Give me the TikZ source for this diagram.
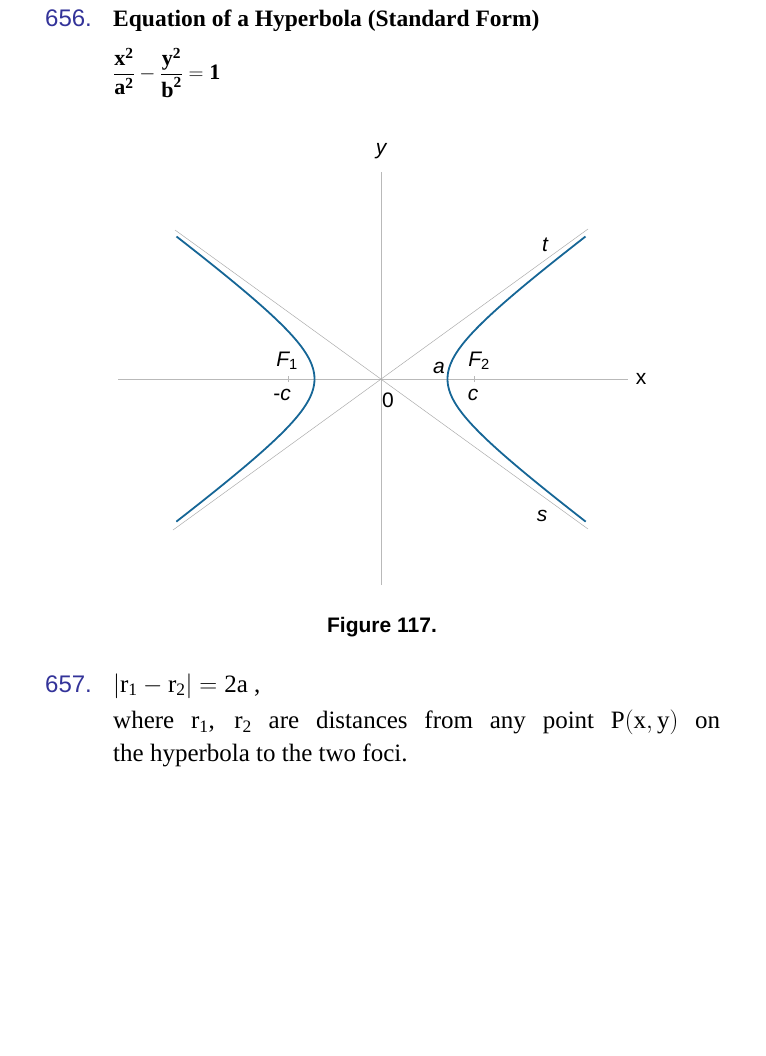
\documentclass[tikz,border=0pt]{standalone}
\usepackage{amsmath}
\usepackage{fontspec}
\setmainfont{Liberation Serif}
\setsansfont{Liberation Sans}
\usetikzlibrary{positioning}
\definecolor{numblue}{RGB}{51,51,153}
\definecolor{curveblue}{RGB}{22,102,150}
\definecolor{axisgray}{RGB}{185,185,185}
\begin{document}
\begin{tikzpicture}[
		x = 1pt, y = -1pt,
		every node/.style = {inner sep = 0pt},
		itemnum/.style = {font = \sffamily\fontsize{24}{28}\selectfont, text = numblue, anchor = base west},
		lab/.style = {font = \sffamily\fontsize{21}{24}\selectfont},
		axisline/.style = {axisgray, line width = 0.7pt},
		asym/.style = {gray!65, line width = 0.5pt},
		branch/.style = {curveblue, line width = 1.8pt},
		declare function = {
			hx(\t) = 66.5*cosh(\t);
			hy(\t) = 49*sinh(\t);
		}]
	\useasboundingbox (0,0) rectangle (765,1056);

	% header
	\node[itemnum] (num656) at (45,27) {656.};
	\node[anchor = base west, font = \bfseries\fontsize{23.5}{28}\selectfont] (title) at (113,27)
		{Equation of a Hyperbola (Standard Form)};
	\node[anchor = west, font = \bfseries\fontsize{22}{26}\selectfont] (eqn) at (113,73)
		{$\dfrac{\text{x}^{\text{2}}}{\text{a}^{\text{2}}}-\dfrac{\text{y}^{\text{2}}}{\text{b}^{\text{2}}}=\text{1}$};

	% graph
	\begin{scope}[shift = {(381,379)}, yscale = -1]
		\coordinate (O) at (0,0);
		\coordinate (xl) at (-263,0);
		\coordinate (xr) at (247,0);
		\coordinate (yb) at (0,-206);
		\coordinate (yt) at (0,207);

		\draw[axisline] (xl) -- (xr);
		\draw[axisline] (yb) -- (yt);

		\draw[asym] (-208,-151) -- (207,150);
		\draw[asym] (-206,149) -- (207,-150);

		\draw[branch,domain=-1.79:1.79,samples=80,variable=\t] plot ({hx(\t)},{hy(\t)});
		\draw[branch,domain=-1.79:1.79,samples=80,variable=\t] plot ({-hx(\t)},{hy(\t)});

		\draw[axisline] (-93,-3) -- (-93,3);
		\draw[axisline] (93,-3) -- (93,3);

		\node[lab] (ylab) at (0,228) {\itshape y};
		\node[lab] (xlab) at (260,0) {x};
		\node[lab] (tlab) at (164,134) {\itshape t};
		\node[lab] (slab) at (161,-137) {\itshape s};
		\node[lab] (F1) at (-94,18) {\itshape F\textsubscript{\upshape 1}};
		\node[lab] (mc) at (-99,-16) {-\itshape c};
		\node[lab] (alab) at (58,11) {\itshape a};
		\node[lab] (F2) at (98,18) {\itshape F\textsubscript{\upshape 2}};
		\node[lab] (clab) at (92,-16) {\itshape c};
		\node[lab] (zero) at (7,-21) {0};
	\end{scope}

	\node[font = \sffamily\bfseries\fontsize{21}{24}\selectfont] (cap) at (382,627) {Figure 117.};

	% second item
	\node[itemnum] (num657) at (45,692) {657.};
	\node[anchor = base west, font = \fontsize{25}{28}\selectfont] (rel) at (113,692)
		{$\left|\text{r}_{\text{1}}-\text{r}_{\text{2}}\right|=\text{2a}$ ,};
	\node[anchor = north west, text width = 607pt, align = justify,
		font = \fontsize{25}{33}\selectfont] (expl) at (113,710)
		{where $\text{r}_{\text{1}}$, $\text{r}_{\text{2}}$ are distances from any point P$(\text{x},\text{y})$ on\linebreak the hyperbola to the two foci.};
\end{tikzpicture}
\end{document}
